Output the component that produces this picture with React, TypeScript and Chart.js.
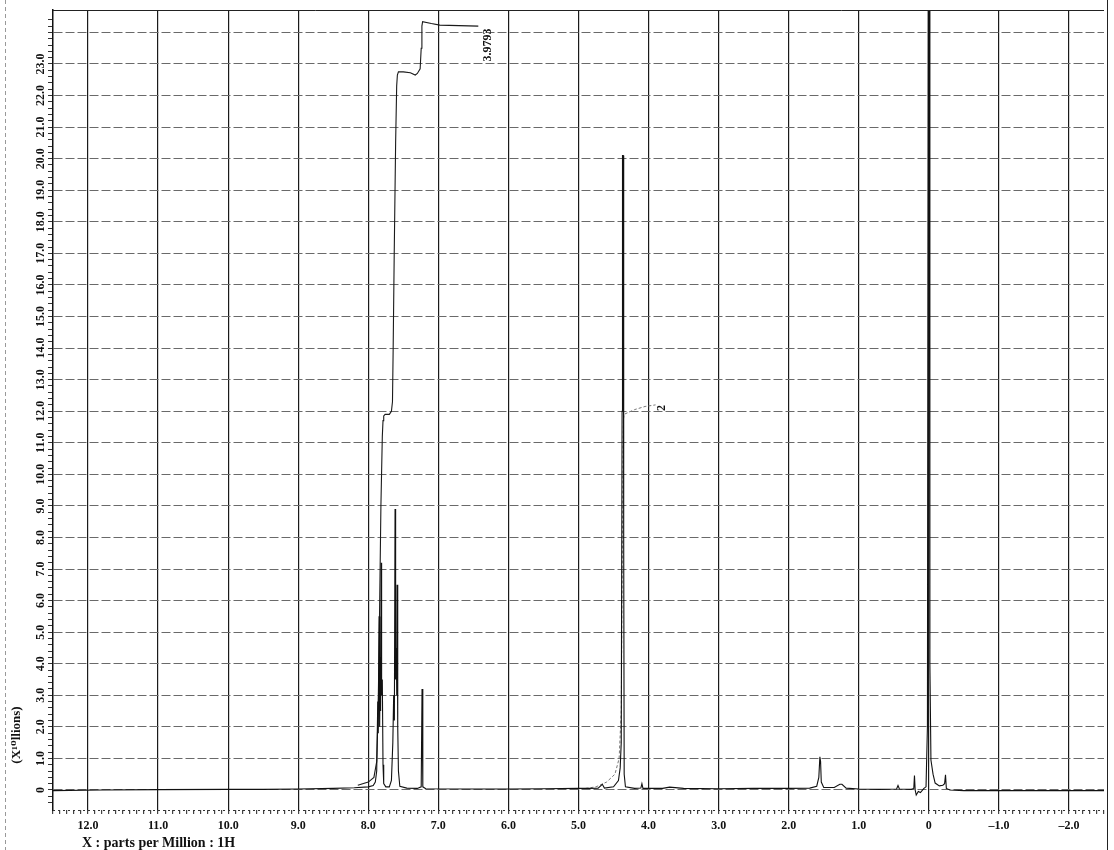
import React, { useEffect, useRef } from 'react';
import { Chart, registerables } from 'chart.js';

Chart.register(...registerables);

// ---- axis ticks ----
const xTickValues = [12, 11, 10, 9, 8, 7, 6, 5, 4, 3, 2, 1, 0, -1, -2];
const xTickLabels = ['12.0', '11.0', '10.0', '9.0', '8.0', '7.0', '6.0', '5.0', '4.0', '3.0', '2.0', '1.0', '0', '\u20131.0', '\u20132.0'];
const yTickValues = [0, 1, 2, 3, 4, 5, 6, 7, 8, 9, 10, 11, 12, 13, 14, 15, 16, 17, 18, 19, 20, 21, 22, 23];
const yTickLabels = ['0', '1.0', '2.0', '3.0', '4.0', '5.0', '6.0', '7.0', '8.0', '9.0', '10.0', '11.0', '12.0', '13.0', '14.0', '15.0', '16.0', '17.0', '18.0', '19.0', '20.0', '21.0', '22.0', '23.0'];

const xTitle = 'X : parts per Million : 1H';
const yTitle = '(X\u00B9\u2070llions)';

// ---- spectrum (ppm, intensity x10 millions) ----
const specPpm = [
  12.5, 11.8, 11.0, 10.0, 9.5, 9.0, 8.5, 8.2, 8.0, 7.93, 7.9, 7.88, 7.865, 7.858, 7.846, 7.838, 7.83, 7.824, 7.817, 7.81,
  7.8, 7.79, 7.78, 7.75, 7.7, 7.67, 7.65, 7.638, 7.628, 7.618, 7.61, 7.6, 7.594, 7.589, 7.58, 7.57, 7.55, 7.45, 7.3, 7.245,
  7.233, 7.222, 7.18, 6.5, 6.0, 5.5, 5.0, 4.85, 4.72, 4.66, 4.63, 4.5, 4.43, 4.405, 4.39, 4.378, 4.372, 4.362, 4.355, 4.348,
  4.33, 4.2, 4.11, 4.095, 4.08, 3.8, 3.7, 3.5, 3.0, 2.5, 2.0, 1.7, 1.6, 1.57, 1.555, 1.545, 1.535, 1.5, 1.35, 1.27,
  1.24, 1.18, 1.0, 0.7, 0.46, 0.44, 0.42, 0.25, 0.215, 0.205, 0.195, 0.18, 0.15, 0.12, 0.07, 0.04, 0.02, 0.008, -0.004, -0.015,
  -0.03, -0.06, -0.09, -0.15, -0.2, -0.225, -0.238, -0.25, -0.3, -0.5, -1.0, -2.0, -2.5,
];
const specInt = [
  -0.02, 0.0, 0.01, 0.02, 0.02, 0.03, 0.05, 0.07, 0.1, 0.14, 0.25, 0.6, 2.8, 1.8, 5.5, 2.0, 4.2, 2.5, 7.2, 3.0,
  3.5, 0.8, 0.2, 0.1, 0.1, 0.3, 1.5, 3.0, 2.2, 8.9, 3.5, 4.5, 3.0, 6.5, 2.0, 0.6, 0.12, 0.06, 0.05, 0.1,
  3.2, 0.1, 0.04, 0.03, 0.03, 0.04, 0.05, 0.05, 0.06, 0.18, 0.06, 0.1, 0.3, 0.7, 1.5, 12, 20.1, 20.1, 8, 0.5,
  0.1, 0.05, 0.06, 0.2, 0.05, 0.05, 0.09, 0.05, 0.04, 0.05, 0.05, 0.06, 0.12, 0.4, 1.05, 0.9, 0.25, 0.08, 0.08, 0.18,
  0.18, 0.06, 0.03, 0.02, 0.03, 0.14, 0.03, 0.02, 0.05, 0.46, 0.0, -0.16, -0.05, -0.08, 0.05, 0.1, 2.0, 28, 28, 4,
  0.95, 0.5, 0.22, 0.13, 0.15, 0.2, 0.48, 0.05, 0.0, -0.02, -0.02, -0.02, -0.02,
];

// ---- integral curves ----
const int1Ppm = [8.15, 8.0, 7.92, 7.88, 7.86, 7.84, 7.82, 7.8, 7.79, 7.78, 7.76, 7.7, 7.67, 7.655, 7.645, 7.63, 7.61, 7.595, 7.585, 7.57, 7.5, 7.4, 7.33, 7.3, 7.26, 7.245, 7.235, 7.225, 7.1, 6.98, 6.43];
const int1Val = [0.15, 0.25, 0.4, 0.9, 2.5, 5.5, 9.0, 11.2, 11.7, 11.85, 11.9, 11.9, 12.0, 12.3, 14, 17, 20.5, 22.3, 22.65, 22.75, 22.75, 22.72, 22.65, 22.7, 22.85, 23.5, 24.2, 24.34, 24.28, 24.23, 24.2];
const int2Ppm = [4.9, 4.75, 4.6, 4.48, 4.42, 4.39, 4.375, 4.365, 4.36, 4.35, 4.2, 4.05, 3.9];
const int2Val = [0.05, 0.1, 0.25, 0.5, 1.0, 2.5, 7, 11.0, 11.7, 11.9, 12.05, 12.15, 12.2];
const integralLabels = ['3.9793', '2'];

const SERIF = '"Liberation Serif", "DejaVu Serif", serif';

const near = (a: number, b: number) => Math.abs(a - b) < 1e-6;
const isMultiple = (v: number, step: number) => Math.abs(v / step - Math.round(v / step)) < 1e-6;

const decorPlugin = {
  id: 'decor',
  afterDraw(chart: any) {
    const { ctx, chartArea, scales } = chart;
    const xs = scales.x;
    const ys = scales.y;
    ctx.save();
    // frame lines
    ctx.strokeStyle = '#222';
    ctx.lineWidth = 1;
    ctx.beginPath();
    ctx.moveTo(chartArea.left, chartArea.top + 0.5);
    ctx.lineTo(chartArea.right, chartArea.top + 0.5);
    ctx.stroke();
    ctx.beginPath();
    ctx.moveTo(chartArea.right + 3.5, 0);
    ctx.lineTo(chartArea.right + 3.5, 850);
    ctx.stroke();
    // dotted x axis line
    ctx.setLineDash([2, 3]);
    ctx.strokeStyle = '#333';
    ctx.beginPath();
    ctx.moveTo(chartArea.left, chartArea.bottom + 0.5);
    ctx.lineTo(chartArea.right, chartArea.bottom + 0.5);
    ctx.stroke();
    // scan border at far left
    ctx.setLineDash([4, 3]);
    ctx.strokeStyle = '#999';
    ctx.beginPath();
    ctx.moveTo(5.5, 0);
    ctx.lineTo(5.5, 850);
    ctx.stroke();
    ctx.setLineDash([]);

    // y tick labels (rotated)
    ctx.fillStyle = '#111';
    ctx.font = `bold 12px ${SERIF}`;
    ctx.textAlign = 'center';
    ctx.textBaseline = 'middle';
    yTickValues.forEach((v, i) => {
      const py = ys.getPixelForValue(v);
      ctx.save();
      ctx.translate(41, py);
      ctx.rotate(-Math.PI / 2);
      ctx.fillText(yTickLabels[i], 0, 0);
      ctx.restore();
    });

    // y title
    ctx.save();
    ctx.translate(17, 735);
    ctx.rotate(-Math.PI / 2);
    ctx.font = `bold 13px ${SERIF}`;
    ctx.fillText(yTitle, 0, 0);
    ctx.restore();

    // x title
    ctx.font = `bold 14px ${SERIF}`;
    ctx.textAlign = 'left';
    ctx.textBaseline = 'middle';
    ctx.fillText(xTitle, 82, 843);

    // integral labels
    ctx.font = `bold 12px ${SERIF}`;
    ctx.textAlign = 'center';
    const lbl = [
      { x: xs.getPixelForValue(int1Ppm[int1Ppm.length - 1]) + 10, y: ys.getPixelForValue(23.6) },
      { x: xs.getPixelForValue(int2Ppm[int2Ppm.length - 1]) + 6, y: ys.getPixelForValue(12.1) },
    ];
    lbl.forEach((p, i) => {
      ctx.save();
      ctx.translate(p.x, p.y);
      ctx.rotate(-Math.PI / 2);
      ctx.fillText(integralLabels[i], 0, 0);
      ctx.restore();
    });
    ctx.restore();
  },
};

export default function App() {
  const ref = useRef<HTMLCanvasElement | null>(null);

  useEffect(() => {
    if (!ref.current) return;
    const spec = specPpm.map((p, i) => ({ x: p, y: specInt[i] }));
    const i1 = int1Ppm.map((p, i) => ({ x: p, y: int1Val[i] }));
    const i2 = int2Ppm.map((p, i) => ({ x: p, y: int2Val[i] }));
    const chart = new Chart(ref.current, {
      type: 'scatter',
      data: {
        datasets: [
          { data: spec, showLine: true, borderColor: '#111', borderWidth: 1.1, pointRadius: 0, tension: 0 },
          { data: i1, showLine: true, borderColor: '#1a1a1a', borderWidth: 1.1, pointRadius: 0, tension: 0 },
          { data: i2, showLine: true, borderColor: '#777', borderWidth: 1, pointRadius: 0, tension: 0, borderDash: [3, 2] },
        ],
      },
      options: {
        animation: false,
        responsive: false,
        events: [],
        layout: { padding: { left: 0, right: 10, top: 10, bottom: 0 } },
        plugins: { legend: { display: false }, tooltip: { enabled: false }, title: { display: false } },
        scales: {
          x: {
            type: 'linear',
            reverse: true,
            min: -2.5,
            max: 12.5,
            afterFit: (s: any) => { s.height = 40; },
            ticks: {
              stepSize: 0.1,
              autoSkip: false,
              minRotation: 0,
              maxRotation: 0,
              padding: 5,
              color: '#111',
              font: { family: SERIF, weight: 'bold', size: 12 },
              callback: (v: any) => {
                const idx = xTickValues.findIndex((t) => near(t, Number(v)));
                return idx >= 0 ? xTickLabels[idx] : '';
              },
            },
            grid: {
              color: (c: any) => (c.tick && isMultiple(c.tick.value, 1) ? '#1a1a1a' : 'rgba(0,0,0,0)'),
              lineWidth: 1.2,
              tickLength: 4,
              tickColor: (c: any) => (c.tick && isMultiple(c.tick.value, 0.1) ? '#444' : 'rgba(0,0,0,0)'),
            },
            border: { display: false },
          },
          y: {
            type: 'linear',
            min: -0.634,
            max: 24.71,
            afterFit: (s: any) => { s.width = 53; },
            ticks: { stepSize: 0.2, autoSkip: false, display: false },
            grid: {
              color: (c: any) => (c.tick && isMultiple(c.tick.value, 1) ? '#6a6a6a' : 'rgba(0,0,0,0)'),
              lineWidth: 1,
              tickLength: 5,
              tickColor: (c: any) => (c.tick && isMultiple(c.tick.value, 0.2) ? '#333' : 'rgba(0,0,0,0)'),
            },
            border: { display: true, color: '#111', width: 1.5, dash: [9, 3] },
          },
        },
      },
      plugins: [decorPlugin],
    } as any);
    return () => chart.destroy();
  }, []);

  return (
    <div style={{ position: 'absolute', left: 0, top: 0, width: 1114, height: 850, background: '#fff' }}>
      <canvas ref={ref} width={1114} height={850} style={{ display: 'block' }} />
    </div>
  );
}
